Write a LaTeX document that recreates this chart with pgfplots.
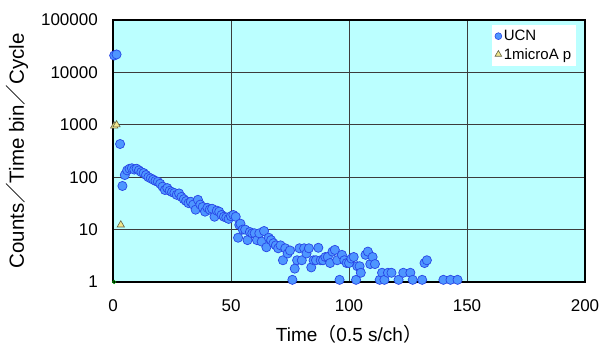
\documentclass[border=0pt]{standalone}
\usepackage{pgfplots}
\pgfplotsset{compat=1.18}
\usepackage{fontspec}
\setmainfont{Liberation Sans}
\newfontfamily\cjk{Noto Sans CJK JP}
\definecolor{bgcyan}{RGB}{187,255,255}
\definecolor{ucnfill}{RGB}{78,150,255}
\definecolor{ucnedge}{RGB}{40,70,230}
\definecolor{trifill}{RGB}{240,230,140}
\definecolor{triedge}{RGB}{100,100,70}
\definecolor{gridc}{RGB}{60,60,60}
\begin{document}
\begin{tikzpicture}
\begin{axis}[
  scale only axis,
  width=472pt, height=262pt,
  at={(113pt,65pt)}, anchor=south west,
  xmin=0, xmax=200, ymode=log, ymin=1, ymax=100000,
  log basis y=10,
  xtick={0,50,100,150,200},
  ytick={1,10,100,1000,10000,100000},
  yticklabels={1,10,100,1000,10000,100000},
  minor ytick={},
  major tick length=0pt, minor tick length=0pt,
  grid=major,
  major grid style={gridc, line width=0.8pt},
  axis background/.style={fill=bgcyan},
  axis line style={black, line width=1.4pt},
  /pgf/number format/assume math mode=true,
  tick label style={font=\fontsize{17}{20}\selectfont},
  yticklabel style={anchor=east, inner sep=0pt, xshift=-15pt},
  xticklabel style={anchor=north, inner sep=0pt, yshift=-17pt},
  xlabel={Time{\cjk （}0.5 s/ch{\cjk ）}},
  ylabel={Counts{\cjk ／}Time bin{\cjk ／}Cycle},
  xlabel style={font=\fontsize{19}{22}\selectfont, at={(axis description cs:0.5,-0.229)}, anchor=base},
  ylabel style={font=\fontsize{20.5}{24}\selectfont, at={(axis description cs:-0.1886,0.5)}, anchor=base},
  clip=false,
  legend style={at={(rel axis cs:0.982,0.981)}, anchor=north east, fill=white, draw=none,
    font=\fontsize{15}{18}\selectfont, row sep=2pt, inner sep=3pt},
  legend cell align=left,
]
\addlegendimage{only marks, mark=*, mark size=3.4pt, mark options={fill=ucnfill, draw=ucnedge, line width=0.6pt}}
\addlegendentry{UCN}
\addlegendimage{only marks, mark=triangle*, mark size=3.8pt, mark options={fill=trifill, draw=triedge, line width=0.6pt}}
\addlegendentry{1microA p}
\addplot[forget plot, only marks, mark=*, mark size=4.6pt, mark options={fill=ucnfill, draw=ucnedge, line width=0.7pt}] table {
t v
0.5 21000
1.5 22000
3 430
4 68
5 110
6 135
7 145
8 148
9 140
10 145
11 135
12 125
13 120
14 110
15 100
16 95
17 90
18 85
19 82
20 75
21 66
22 57
23 62
24 55
25 52
26 50
27 46
28 49
29 42
30 38
31 35
32 32
33 34
34 30
35 24
36 37
37 30
38 27
39 22
40 26
41 24
42 25
43 17.6
44 23
45 22
46 19
47 17.6
48 17
49 16
50 18
51 19
52 17.6
53 7
53.5 12.3
54 13
55 10
56 10
57 6.3
58 9
59 8.5
60 8.5
61 6.3
62 8.5
63 5.9
64 9.4
65 4.6
66 7
67 6.3
68 5.5
69 5
70 4.4
71 5
72 2.6
73 4.4
74 3.5
75 4
76 1.1
77 1.8
78 2.6
79 4.4
80 2.6
81 4.4
82 3.5
83 4.4
84 1.9
85 2.6
86 2.6
87 4.5
88 2.6
89 2.6
90 3
91 3
92 2.3
93 3.8
94 4.1
95 2.6
96 1.1
97 3.3
98 2.6
99 2.3
100 2.3
101 2.8
102 3
103 1.1
103.5 2
104.5 2
105 1.5
107 3.3
108 3.8
109 2.2
110 3
111 2.2
113 1.1
114 1.5
115 1.1
116.5 1.5
118 1.5
121 1.1
123 1.5
126 1.5
127 1.1
131 1.1
132 2.3
133 2.6
140 1.1
143 1.1
146 1.1
};
\addplot[forget plot, only marks, mark=triangle*, mark size=4.2pt, mark options={fill=trifill, draw=triedge, line width=0.6pt}] table {
t v
0.5 950
1.5 1000
3.3 12.3
};
\addplot[forget plot, only marks, mark=o, mark size=1.8pt, mark options={draw=green!60!black, fill=white, line width=0.6pt}] table {
t v
0.5 1
};
\end{axis}
\pgfresetboundingbox
\path[use as bounding box] (0,0) rectangle (601pt,347pt);
\end{tikzpicture}
\end{document}
